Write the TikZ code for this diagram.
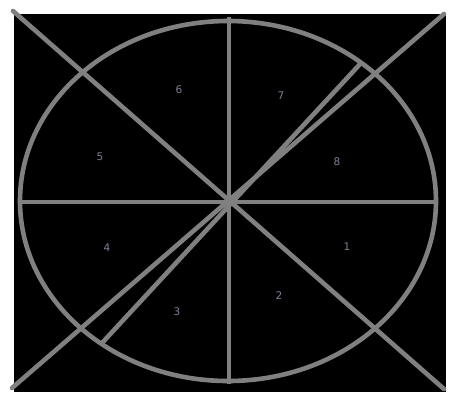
\documentclass[tikz,border=0pt]{standalone}
\usepackage{fontspec}
\setmainfont{DejaVu Sans}
\usepackage{xcolor}
\usepackage{tikz}

\definecolor{linegray}{RGB}{128,128,128}
\definecolor{labelgray}{RGB}{125,128,150}

\begin{document}
\begin{tikzpicture}[x=1pt, y=-1pt,
    spoke/.style={draw=linegray, line width=4.6pt},
    rim/.style={draw=linegray, line width=4.6pt},
    sector/.style={text=labelgray, font=\fontsize{10.5}{10.5}\selectfont, inner sep=0pt}]

    \useasboundingbox[fill=white] (0,0) rectangle (471,402);
    \fill[black] (14,14) rectangle (446,392);

    % centre and end points
    \coordinate (c) at (229,202);
    \coordinate (tl) at (13,11);
    \coordinate (br) at (444,389);
    \coordinate (tr) at (444,14);
    \coordinate (bl) at (12,388);
    \coordinate (top) at (229,17);
    \coordinate (bot) at (229,384);
    \coordinate (lft) at (20,202);
    \coordinate (rgt) at (436,202);
    \coordinate (cutA) at (102,343);
    \coordinate (cutB) at (361,63);

    \draw [rim] (228,201) ellipse (208 and 180);

    \path [spoke, line cap=round] (tl) -- (br);
    \path [spoke, line cap=round] (tr) -- (bl);
    \path [spoke] (top) -- (bot);
    \path [spoke] (lft) -- (rgt);
    \path [spoke] (cutA) -- (cutB);

    \node [sector] (s1) at (347,247) {1};
    \node [sector] (s2) at (279,296) {2};
    \node [sector] (s3) at (177,312) {3};
    \node [sector] (s4) at (107,248) {4};
    \node [sector] (s5) at (100,157) {5};
    \node [sector] (s6) at (179,90) {6};
    \node [sector] (s7) at (281,96) {7};
    \node [sector] (s8) at (337,162) {8};
\end{tikzpicture}
\end{document}
